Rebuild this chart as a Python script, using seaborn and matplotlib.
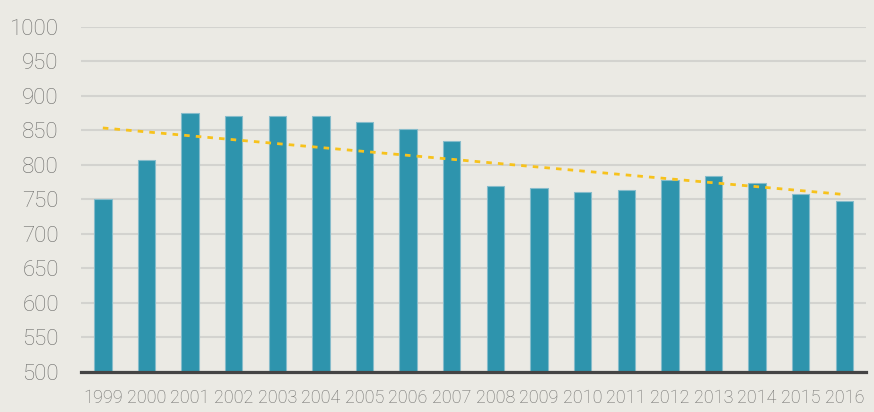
import numpy as np
import pandas as pd
import matplotlib
matplotlib.use('Agg')
import matplotlib.pyplot as plt
import seaborn as sns

# data
years = [str(y) for y in range(1999, 2017)]
values = [750, 807, 875, 871, 870, 870, 862, 852, 835,
          769, 767, 761, 764, 778, 783, 773, 757, 747]
y_ticks = [500, 550, 600, 650, 700, 750, 800, 850, 900, 950, 1000]

BG = '#ebeae4'
BAR = '#2e94ad'
TREND = '#f7c21c'
TEXT = '#6c6c6a'

sns.set_theme(style="white")
plt.rcParams['font.family'] = ['Roboto', 'DejaVu Sans']
plt.rcParams['font.weight'] = 'light'

df = pd.DataFrame({'year': years, 'value': values})

fig = plt.figure(figsize=(8.74, 4.12), dpi=100, facecolor=BG)
ax = fig.add_axes([0.0927, 0.097, 0.8983, 0.8386])
ax.set_facecolor(BG)

sns.barplot(data=df, x='year', y='value', color=BAR, width=0.4,
            edgecolor='#86bccb', linewidth=0.8, saturation=1, ax=ax, zorder=3)

# linear trend line through the yearly values
xs = np.arange(len(values))
slope, intercept = np.polyfit(xs, values, 1)
ax.plot(xs, slope * xs + intercept, color=TREND, lw=2.0,
        dashes=(2.0, 2.2), zorder=4)

ax.set_ylim(500, 1000)
ax.set_xlim(-0.5, len(values) - 0.5)
ax.set_yticks(y_ticks)
ax.set_yticklabels([str(t) for t in y_ticks])
ax.yaxis.grid(True, color='#d3d3cf', lw=1.5, zorder=0)
ax.set_axisbelow(True)

for s in ['top', 'right', 'left']:
    ax.spines[s].set_visible(False)
ax.spines['bottom'].set_color('#444444')
ax.spines['bottom'].set_linewidth(2.3)
ax.spines['bottom'].set_zorder(5)

ax.tick_params(axis='y', length=0, pad=16, labelsize=16, labelcolor=TEXT)
ax.tick_params(axis='x', length=0, pad=12, labelsize=13, labelcolor=TEXT)
ax.set_xlabel('')
ax.set_ylabel('')

fig.savefig('out.png', dpi=100, facecolor=BG)
